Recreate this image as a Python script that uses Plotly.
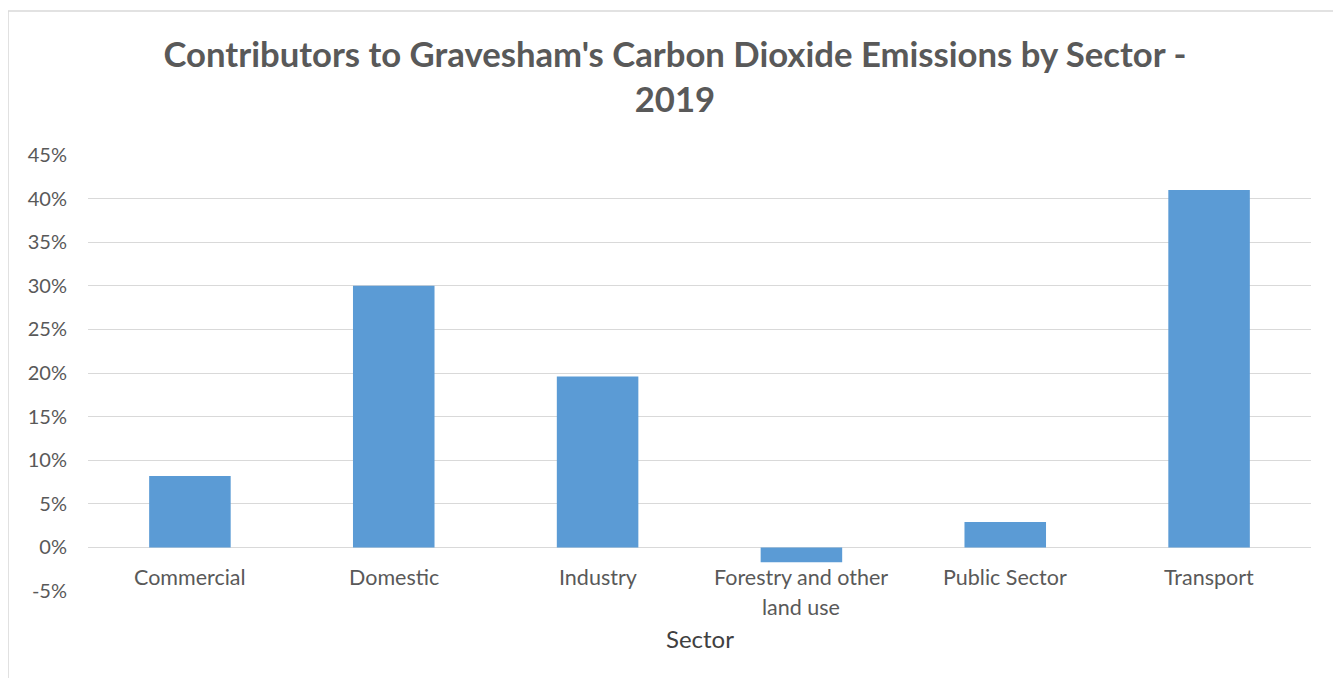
import plotly.graph_objects as go

categories = ["Commercial", "Domestic", "Industry", "Forestry and other<br>land use", "Public Sector", "Transport"]
values = [8.2, 30.0, 19.6, -1.7, 2.9, 41.0]
y_ticks = [-5, 0, 5, 10, 15, 20, 25, 30, 35, 40, 45]
y_tick_labels = [f"{v}%" for v in y_ticks]

title_text = "Contributors to Gravesham's Carbon Dioxide Emissions by Sector -<br>2019"
x_title = "Sector"

FONT = "Lato, 'Open Sans', sans-serif"
TXT = "#595959"

fig = go.Figure()
fig.add_trace(go.Bar(x=list(range(len(categories))), y=values, marker=dict(color="#5b9bd5", line=dict(width=0)),
                     hoverinfo="y"))

for i, c in enumerate(categories):
    for j, line in enumerate(c.split("<br>")):
        fig.add_annotation(x=i, y=0, xref="x", yref="y", text=line, showarrow=False,
                           yanchor="top", yshift=-15 - 30 * j, font=dict(family=FONT, size=21.5, color=TXT))

fig.add_annotation(x=0.5, y=-0.108, xref="paper", yref="paper", text=x_title, showarrow=False,
                   yanchor="middle", font=dict(family=FONT, size=24, color="#404040"))

fig.add_shape(type="rect", xref="paper", yref="paper", x0=-0.0654, x1=1.0229, y0=-0.3, y1=1.330,
              line=dict(color="#d9d9d9", width=1.5), fillcolor="rgba(0,0,0,0)", layer="below")

fig.update_layout(
    width=1333, height=670,
    margin=dict(l=80, r=30, t=147, b=87),
    paper_bgcolor="white", plot_bgcolor="white",
    bargap=0.6,
    showlegend=False,
    title=dict(text=title_text, x=0.5003, xanchor="center", y=0.9115, yanchor="middle",
               font=dict(family=FONT, size=34.7, color=TXT, weight="bold")),
    xaxis=dict(range=[-0.5, 5.5], showticklabels=False, showgrid=False, zeroline=False, showline=False,
               fixedrange=True),
    yaxis=dict(range=[-5, 45], tickvals=y_ticks, ticktext=y_tick_labels, showgrid=True,
               gridcolor="#d9d9d9", gridwidth=1.2, zeroline=True, zerolinecolor="#d9d9d9", zerolinewidth=1.2,
               showline=False, ticks="", ticklabelstandoff=20,
               tickfont=dict(family=FONT, size=20, color=TXT), fixedrange=True),
)

fig.write_html("out.html")
